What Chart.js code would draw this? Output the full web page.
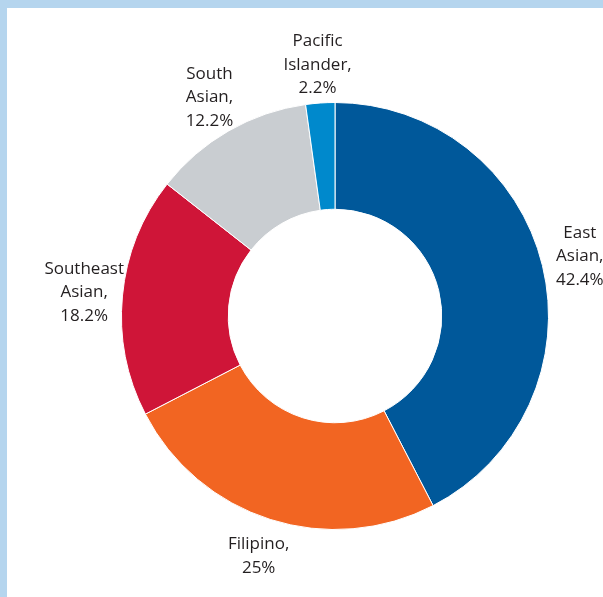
<!DOCTYPE html>
<html>
<head>
<meta charset="utf-8">
<script src="https://cdn.jsdelivr.net/npm/chart.js@4"></script>
<style>
    html, body { margin: 0; padding: 0; }
    body { width: 603px; height: 597px; background: #b5d5ee; overflow: hidden; }
    #frame { position: absolute; left: 7px; top: 8px; width: 596px; height: 589px; background: #fff; }
</style>
</head>
<body>
<div id="frame"><canvas id="donut" width="596" height="589"></canvas></div>
<script>
// Veriler
const groups = ['East Asian', 'Filipino', 'Southeast Asian', 'South Asian', 'Pacific Islander'];
const shares = [42.4, 25, 18.2, 12.2, 2.2];
const sliceColors = ['#00589a', '#f26522', '#cf1538', '#c9cdd1', '#0089cc'];

// Dilim etiketleri (dış tarafta, orta açıda)
const outsideLabels = {
    id: 'outsideLabels',
    afterDatasetsDraw(chart) {
        const ctx = chart.ctx;
        const meta = chart.getDatasetMeta(0);
        ctx.save();
        ctx.font = '17px "Open Sans", sans-serif';
        ctx.fillStyle = '#231f20';
        ctx.textAlign = 'center';
        ctx.textBaseline = 'middle';
        const lineH = 23.5;
        meta.data.forEach((arc, i) => {
            const mid = (arc.startAngle + arc.endAngle) / 2;
            const r = arc.outerRadius * 1.18;
            const x = arc.x + Math.cos(mid) * r;
            const y = arc.y + Math.sin(mid) * r;
            const words = groups[i].split(' ');
            words[words.length - 1] += ',';
            const lines = words.concat([shares[i] + '%']);
            const top = y - (lines.length - 1) * lineH / 2;
            lines.forEach((t, j) => ctx.fillText(t, x, top + j * lineH));
        });
        ctx.restore();
    }
};

new Chart(document.getElementById('donut').getContext('2d'), {
    type: 'doughnut',
    data: {
        labels: groups,
        datasets: [{
            data: shares,
            backgroundColor: sliceColors,
            borderColor: '#ffffff',
            borderWidth: 1
        }]
    },
    options: {
        responsive: false,
        animation: false,
        cutout: '50%',
        layout: { padding: { left: 114, right: 54, top: 94, bottom: 67 } },
        plugins: {
            legend: { display: false },
            tooltip: { enabled: false }
        }
    },
    plugins: [outsideLabels]
});
</script>
</body>
</html>
